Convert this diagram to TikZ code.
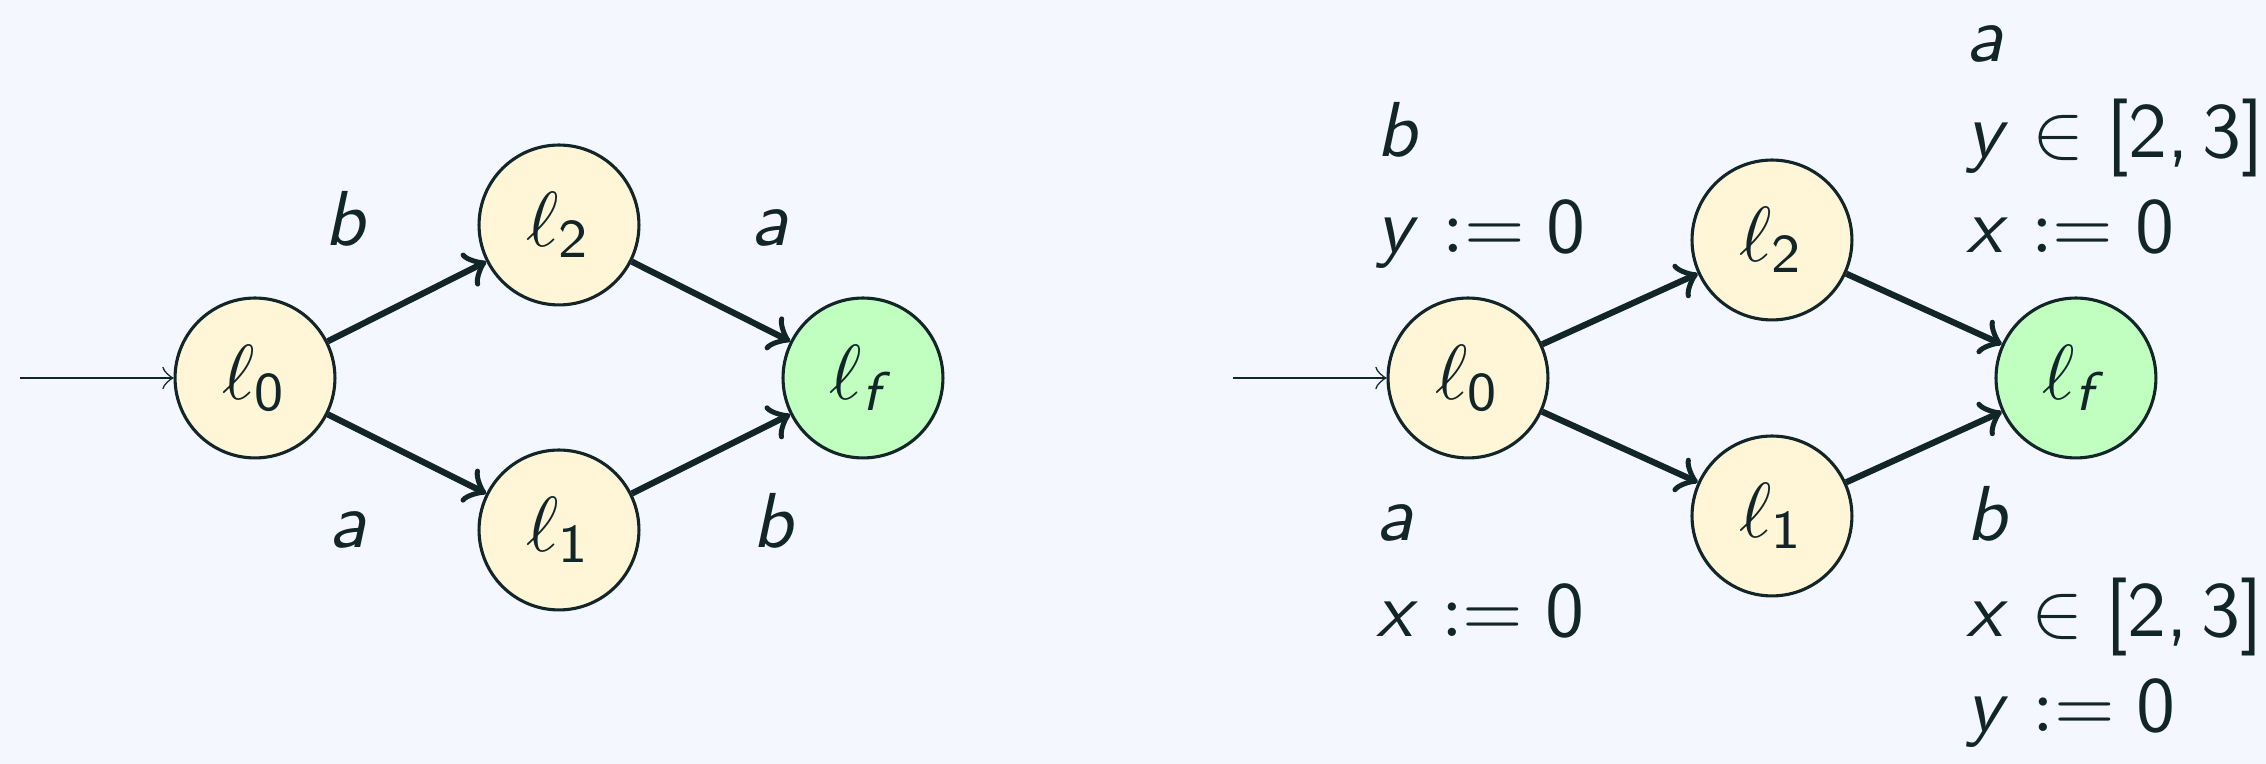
\documentclass[tikz,border=0pt]{standalone}
\DeclareSymbolFont{sfup}{OT1}{cmss}{m}{n}
\DeclareSymbolFont{sfit}{OT1}{cmss}{m}{it}
\DeclareMathSymbol{a}{\mathalpha}{sfit}{`a}
\DeclareMathSymbol{b}{\mathalpha}{sfit}{`b}
\DeclareMathSymbol{f}{\mathalpha}{sfit}{`f}
\DeclareMathSymbol{x}{\mathalpha}{sfit}{`x}
\DeclareMathSymbol{y}{\mathalpha}{sfit}{`y}
\DeclareMathSymbol{0}{\mathalpha}{sfup}{`0}
\DeclareMathSymbol{1}{\mathalpha}{sfup}{`1}
\DeclareMathSymbol{2}{\mathalpha}{sfup}{`2}
\DeclareMathSymbol{3}{\mathalpha}{sfup}{`3}
\DeclareMathSymbol{,}{\mathpunct}{sfup}{"2C}
\DeclareMathSymbol{[}{\mathopen}{sfup}{"5B}
\DeclareMathSymbol{]}{\mathclose}{sfup}{"5D}
\definecolor{bgc}{RGB}{244,248,254}
\definecolor{ink}{RGB}{18,38,42}
\definecolor{locfill}{RGB}{255,246,215}
\definecolor{finfill}{RGB}{192,255,192}
\tikzset{
  loc/.style={circle,draw=ink,fill=locfill,minimum size=20.5pt,inner sep=0pt,thin,text=ink},
  fin/.style={loc,fill=finfill},
  trans/.style={->,thick,draw=ink},
  initarr/.style={->,very thin,draw=ink},
  lab/.style={inner sep=0pt,text=ink,anchor=base west},
}
\newcommand{\lines}[1]{\renewcommand\arraystretch{1.02}\begin{tabular}[t]{@{}l@{}}#1\end{tabular}}
\begin{document}
\begin{tikzpicture}[x=0.1282pt,y=-0.1282pt]
\fill[bgc] (0,0) rectangle (2266,764);
\useasboundingbox (0,0) rectangle (2266,764);
% left automaton
\coordinate (li) at (20,378);
\node[loc] (l0) at (255,378) {$\ell_0$};
\node[loc] (l2) at (559,225) {$\ell_2$};
\node[loc] (l1) at (559,530) {$\ell_1$};
\node[fin] (lf) at (863,378) {$\ell_f$};
\draw[initarr] (li) -- (l0);
\draw[trans] (l0) -- (l2);
\draw[trans] (l0) -- (l1);
\draw[trans] (l2) -- (lf);
\draw[trans] (l1) -- (lf);
\node[lab] (lb1) at (323,246) {$b$};
\node[lab] (la1) at (750,246) {$a$};
\node[lab] (la2) at (328,548) {$a$};
\node[lab] (lb2) at (751,548) {$b$};
% right automaton
\coordinate (ri) at (1233,378);
\node[loc] (r0) at (1468,378) {$\ell_0$};
\node[loc] (r2) at (1772,240) {$\ell_2$};
\node[loc] (r1) at (1772,516) {$\ell_1$};
\node[fin] (rf) at (2076,378) {$\ell_f$};
\draw[initarr] (ri) -- (r0);
\draw[trans] (r0) -- (r2);
\draw[trans] (r0) -- (r1);
\draw[trans] (r2) -- (rf);
\draw[trans] (r1) -- (rf);
\node[lab] (g02) at (1375,157) {\lines{$b$\\ $y := 0$}};
\node[lab] (g01) at (1375,541) {\lines{$a$\\ $x := 0$}};
\node[lab] (g2f) at (1965,62) {\lines{$a$\\ $y \in [2,3]$\\ $x := 0$}};
\node[lab] (g1f) at (1965,541) {\lines{$b$\\ $x \in [2,3]$\\ $y := 0$}};
\end{tikzpicture}
\end{document}
